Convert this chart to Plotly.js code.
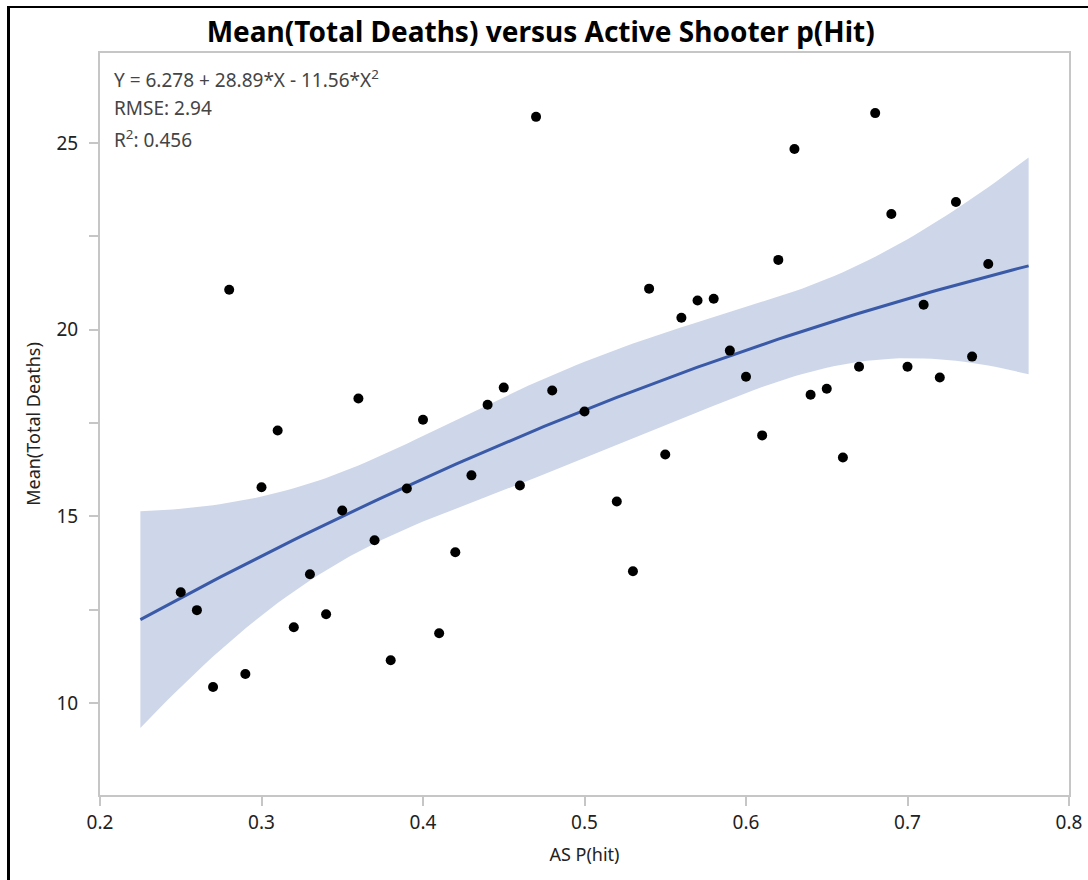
<!DOCTYPE html>
<html><head><meta charset="utf-8">
<script src="https://cdn.plot.ly/plotly-3.0.1.min.js"></script>
<style>body{margin:0;background:#fff;overflow:hidden}#chart{width:1088px;height:880px}.frame{position:absolute;background:#000}</style>
</head><body>
<div id="chart"></div>
<div class="frame" style="left:7px;top:6px;width:3px;height:874px"></div>
<div class="frame" style="left:7px;top:6px;width:1081px;height:2px"></div>
<script>
// AS P(hit) values
const pHit = [0.25,0.26,0.27,0.28,0.29,0.30,0.31,0.32,0.33,0.34,0.35,0.36,0.37,0.38,0.39,0.40,0.41,0.42,0.43,0.44,0.45,0.46,0.47,0.48,
              0.50,0.52,0.53,0.54,0.55,0.56,0.57,0.58,0.59,0.60,0.61,0.62,0.63,0.64,0.65,0.66,0.67,0.68,0.69,0.70,0.71,0.72,0.73,0.74,0.75];
// Mean(Total Deaths)
const meanDeaths = [12.97,12.49,10.43,21.07,10.78,15.78,17.30,12.03,13.45,12.38,15.16,18.16,14.36,11.15,15.75,17.59,11.87,14.04,16.10,17.99,18.45,15.83,25.70,18.37,
              17.81,15.40,13.53,21.10,16.66,20.32,20.78,20.83,19.44,18.74,17.17,21.87,24.84,18.26,18.42,16.58,19.01,25.80,23.10,19.01,20.67,18.72,23.42,19.28,21.76];
const fitRange = [0.225, 0.775];
const fitText = ['Y = 6.278 + 28.89*X - 11.56*X<sup>2</sup>', 'RMSE: 2.94', 'R<sup>2</sup>: 0.456'];
const tCrit = 2.0129; // t(0.975, df=46)

// quadratic least-squares fit from the data
function inv3(m){
  const [a,b,c]=m[0],[d,e,f]=[m[1][0],m[1][1],m[1][2]],[g,h,i]=[m[2][0],m[2][1],m[2][2]];
  const A=e*i-f*h,B=-(d*i-f*g),C=d*h-e*g,det=a*A+b*B+c*C;
  return [[A/det,-(b*i-c*h)/det,(b*f-c*e)/det],[B/det,(a*i-c*g)/det,-(a*f-c*d)/det],[C/det,-(a*h-b*g)/det,(a*e-b*d)/det]];
}
const n=pHit.length;
const XtX=[[0,0,0],[0,0,0],[0,0,0]], Xty=[0,0,0];
for(let k=0;k<n;k++){const v=[1,pHit[k],pHit[k]*pHit[k]];
  for(let r=0;r<3;r++){Xty[r]+=v[r]*meanDeaths[k];for(let c=0;c<3;c++)XtX[r][c]+=v[r]*v[c];}}
const XtXi=inv3(XtX);
const beta=[0,1,2].map(r=>XtXi[r][0]*Xty[0]+XtXi[r][1]*Xty[1]+XtXi[r][2]*Xty[2]);
let sse=0;for(let k=0;k<n;k++){const p=beta[0]+beta[1]*pHit[k]+beta[2]*pHit[k]**2;sse+=(meanDeaths[k]-p)**2;}
const s2=sse/(n-3);
const gx=[],gy=[],up=[],lo=[];
const steps=110;
for(let j=0;j<=steps;j++){
  const x=fitRange[0]+(fitRange[1]-fitRange[0])*j/steps;const v=[1,x,x*x];
  const yh=beta[0]+beta[1]*x+beta[2]*x*x;
  let q=0;for(let r=0;r<3;r++)for(let c=0;c<3;c++)q+=v[r]*XtXi[r][c]*v[c];
  const h=tCrit*Math.sqrt(s2*q);
  gx.push(x);gy.push(yh);up.push(yh+h);lo.push(yh-h);
}

const font="'Noto Sans', 'Open Sans', sans-serif";
const traces=[
  {x:gx.concat(gx.slice().reverse()),y:up.concat(lo.slice().reverse()),type:'scatter',mode:'lines',
   fill:'toself',fillcolor:'rgb(206,215,233)',line:{width:0},hoverinfo:'skip',showlegend:false},
  {x:gx,y:gy,type:'scatter',mode:'lines',line:{color:'rgb(58,90,168)',width:3},showlegend:false},
  {x:pHit,y:meanDeaths,type:'scatter',mode:'markers',marker:{color:'#000',size:10},showlegend:false}
];
const layout={
  width:1088,height:880,margin:{l:100,r:19,t:53,b:85},
  paper_bgcolor:'#fff',plot_bgcolor:'#fff',
  title:{text:'<b>Mean(Total Deaths) versus Active Shooter p(Hit)</b>',xref:'container',x:0.497,xanchor:'center',
         yref:'container',y:1-32/880,yanchor:'middle',font:{family:font,size:28,color:'#000'}},
  xaxis:{range:[0.2,0.8],dtick:0.1,tick0:0.2,showgrid:false,zeroline:false,showline:true,mirror:true,
         linecolor:'#c6c6c6',linewidth:2,ticks:'outside',ticklen:9,tickcolor:'#c6c6c6',tickwidth:2,
         tickfont:{family:font,size:19,color:'#222'},
         title:{text:'AS P(hit)',font:{family:font,size:18,color:'#222'},standoff:15}},
  yaxis:{range:[7.54,27.41],dtick:5,tick0:0,showgrid:false,zeroline:false,showline:true,mirror:true,
         linecolor:'#c6c6c6',linewidth:2,ticks:'outside',ticklen:9,tickcolor:'#c6c6c6',tickwidth:2,
         ticklabelstandoff:7,
         minor:{dtick:2.5,ticks:'outside',ticklen:9,tickcolor:'#c6c6c6',tickwidth:2,showgrid:false},
         tickfont:{family:font,size:19,color:'#222'},
         title:{text:'Mean(Total Deaths)',font:{family:font,size:18,color:'#222'},standoff:11}},
  annotations:fitText.map((t,i)=>({text:t,xref:'paper',yref:'paper',x:0.012,y:1-(10+i*30)/742,
     xanchor:'left',yanchor:'top',showarrow:false,align:'left',font:{family:font,size:19,color:'#444'}}))
};
Plotly.newPlot('chart',traces,layout,{displayModeBar:false,staticPlot:true});
</script>
</body></html>
